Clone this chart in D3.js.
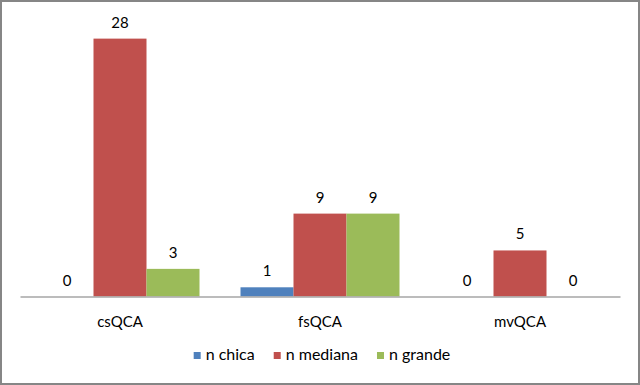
<!DOCTYPE html>
<html>
<head>
<meta charset="utf-8">
<script src="https://cdn.jsdelivr.net/npm/d3@7/dist/d3.min.js"></script>
<style>
  html, body { margin: 0; padding: 0; background: #fff; }
  svg { display: block; }
  text { font-family: Lato, "Open Sans", sans-serif; fill: #000; }
</style>
</head>
<body>
<svg id="chart" width="640" height="385"></svg>
<script>
const categories = ["csQCA", "fsQCA", "mvQCA"];
const seriesNames = ["n chica", "n mediana", "n grande"];
const nChica = [0, 1, 0];
const nMediana = [28, 9, 5];
const nGrande = [3, 9, 0];
const seriesColors = ["#4F81BD", "#C0504D", "#9BBB59"];
const yMax = 30;

const seriesValues = [nChica, nMediana, nGrande];
const W = 640, H = 385;
const plot = { left: 20, right: 620, top: 20.2, bottom: 296.5 };

const svg = d3.select("#chart");

// outer border
svg.append("rect")
  .attr("x", 1).attr("y", 1)
  .attr("width", W - 2).attr("height", H - 2)
  .attr("fill", "#fff")
  .attr("stroke", "#868686")
  .attr("stroke-width", 2);

const x0 = d3.scaleBand()
  .domain(categories)
  .range([plot.left, plot.right])
  .paddingInner(0.205)
  .paddingOuter(0.1025);

const x1 = d3.scaleBand()
  .domain(seriesNames)
  .range([0, x0.bandwidth()])
  .padding(0);

const y = d3.scaleLinear()
  .domain([0, yMax])
  .range([plot.bottom, plot.top]);

const data = categories.map((c, i) => ({
  cat: c,
  vals: seriesNames.map((s, j) => ({ series: s, value: seriesValues[j][i], color: seriesColors[j] }))
}));

const groups = svg.append("g").selectAll("g")
  .data(data).join("g")
  .attr("transform", d => `translate(${x0(d.cat)},0)`);

groups.selectAll("rect")
  .data(d => d.vals).join("rect")
  .attr("x", d => x1(d.series))
  .attr("width", x1.bandwidth())
  .attr("y", d => y(d.value))
  .attr("height", d => y(0) - y(d.value))
  .attr("fill", d => d.color);

groups.selectAll("text.val")
  .data(d => d.vals).join("text")
  .attr("class", "val")
  .attr("x", d => x1(d.series) + x1.bandwidth() / 2)
  .attr("y", d => y(d.value) - 11)
  .attr("text-anchor", "middle")
  .attr("font-size", 15)
  .text(d => d.value);

// category axis
const xAxisScale = d3.scaleBand().domain(categories).range([plot.left, plot.right]);
const axis = svg.append("g")
  .attr("transform", `translate(0,${plot.bottom})`)
  .call(d3.axisBottom(xAxisScale).tickSize(0).tickPadding(20));
axis.select(".domain").attr("stroke", "#A6A6A6").attr("stroke-width", 1.5);
axis.selectAll(".tick text")
  .attr("font-size", 15)
  .attr("font-family", "Lato, 'Open Sans', sans-serif")
  .attr("fill", "#000");

// legend
const legend = svg.append("g");
const items = legend.selectAll("g").data(seriesNames).join("g");
items.append("rect")
  .attr("width", 7).attr("height", 7)
  .attr("y", -8)
  .attr("fill", (d, i) => seriesColors[i]);
items.append("text")
  .attr("x", 12)
  .attr("y", 0)
  .attr("font-size", 16)
  .text(d => d);
const widths = [];
items.each(function () {
  const w = 12 + this.querySelector("text").getComputedTextLength();
  widths.push(w);
});
const gap = 19;
const total = d3.sum(widths) + gap * (widths.length - 1);
items.attr("transform", (d, i) => {
  const off = d3.sum(widths.slice(0, i)) + gap * i;
  return `translate(${off},0)`;
});
legend.attr("transform", `translate(${322 - total / 2},360)`);
</script>
</body>
</html>
